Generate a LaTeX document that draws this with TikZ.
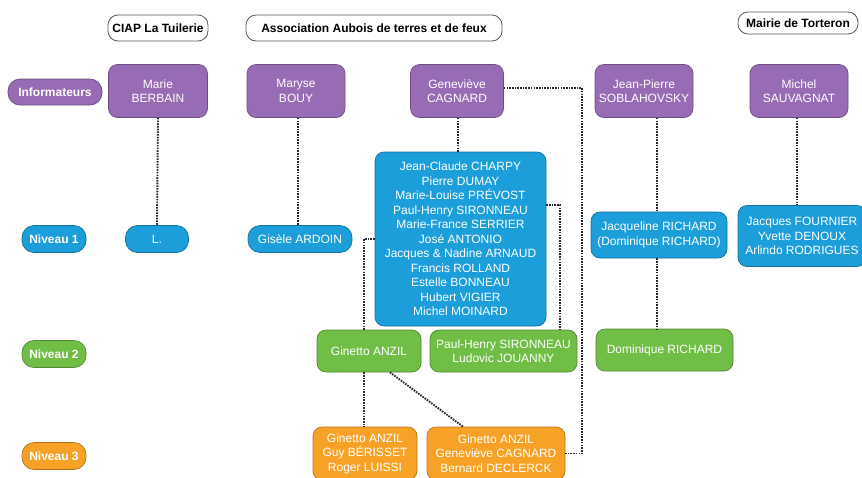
\documentclass[tikz,border=0pt]{standalone}
\usepackage{fontspec}
\setmainfont{Liberation Sans}
\definecolor{purp}{RGB}{152,108,180}
\definecolor{blu}{RGB}{28,158,218}
\definecolor{grn}{RGB}{112,190,70}
\definecolor{org}{RGB}{247,162,38}
\definecolor{lnk}{RGB}{40,40,50}
\begin{document}
\begin{tikzpicture}[x=1pt,y=-1pt,
  box/.style={draw=#1!72!black, fill=#1, text=white, align=center, rounded corners=9pt,
    line width=0.7pt, inner sep=1pt, font=\fontsize{12}{14.5}\selectfont},
  pill/.style={box=#1, rounded corners=12pt, font=\fontsize{12}{14}\selectfont\bfseries},
  header/.style={draw=black!65, fill=white, text=black, rounded corners=10pt, line width=0.8pt,
    inner sep=1pt, font=\fontsize{12}{14}\selectfont\bfseries},
  link/.style={draw=lnk, line width=1.9pt, dash pattern=on 1.6pt off 1.1pt}]
\useasboundingbox (0,0) rectangle (862,477);
% headers
\node[header, minimum width=100pt, minimum height=26pt] (ciap) at (158,28) {CIAP La Tuilerie};
\node[header, minimum width=256pt, minimum height=26pt] (asso) at (374,28) {Association Aubois de terres et de feux};
\node[header, minimum width=120pt, minimum height=22pt] (mairie) at (798,23) {Mairie de Torteron};
% row labels
\node[pill=purp, minimum width=94pt, minimum height=26pt] (inf) at (55,92) {Informateurs};
\node[pill=blu, minimum width=64pt, minimum height=27pt] (n1) at (54,239) {Niveau 1};
\node[pill=grn, minimum width=64pt, minimum height=27pt] (n2) at (54,354) {Niveau 2};
\node[pill=org, minimum width=64pt, minimum height=27pt] (n3) at (54,456) {Niveau 3};
% informateurs
\node[box=purp, minimum width=99pt, minimum height=53pt] (berbain) at (158,91) {Marie\\BERBAIN};
\node[box=purp, minimum width=98pt, minimum height=53pt] (bouy) at (296,91) {Maryse\\BOUY};
\node[box=purp, minimum width=93pt, minimum height=53pt] (cagnard) at (457,91) {Geneviève\\CAGNARD};
\node[box=purp, minimum width=98pt, minimum height=53pt] (sobla) at (644,91) {Jean-Pierre\\SOBLAHOVSKY};
\node[box=purp, minimum width=98pt, minimum height=53pt] (sauva) at (799,91) {Michel\\SAUVAGNAT};
% niveau 1
\node[pill=blu, minimum width=63pt, minimum height=27pt, font=\fontsize{12}{14}\selectfont] (L) at (157,239) {L.};
\node[pill=blu, minimum width=104pt, minimum height=27pt, font=\fontsize{12}{14}\selectfont] (ardoin) at (300,239) {Gisèle ARDOIN};
\node[box=blu, minimum width=171pt, minimum height=174pt] (big) at (460.5,239)
  {Jean-Claude CHARPY\\Pierre DUMAY\\Marie-Louise PRÉVOST\\Paul-Henry SIRONNEAU\\Marie-France SERRIER\\José ANTONIO\\Jacques \& Nadine ARNAUD\\Francis ROLLAND\\Estelle BONNEAU\\Hubert VIGIER\\Michel MOINARD};
\node[box=blu, minimum width=136pt, minimum height=46pt] (jacq) at (659,235) {Jacqueline RICHARD\\(Dominique RICHARD)};
\node[box=blu, minimum width=128pt, minimum height=61pt] (fourn) at (802,236) {Jacques FOURNIER\\Yvette DENOUX\\Arlindo RODRIGUES};
% niveau 2
\node[box=grn, minimum width=104pt, minimum height=42pt] (anzil) at (369,351) {Ginetto ANZIL};
\node[box=grn, minimum width=147pt, minimum height=42pt] (ph) at (503.5,351) {Paul-Henry SIRONNEAU\\Ludovic JOUANNY};
\node[box=grn, minimum width=137pt, minimum height=42pt] (domi) at (664.5,350) {Dominique RICHARD};
% niveau 3
\node[box=org, minimum width=104pt, minimum height=53pt] (g3a) at (365,453.5) {Ginetto ANZIL\\Guy BÉRISSET\\Roger LUISSI};
\node[box=org, minimum width=138pt, minimum height=53pt] (g3b) at (496,453.5) {Ginetto ANZIL\\Geneviève CAGNARD\\Bernard DECLERCK};
% connectors
\draw[link] (berbain.south) -- (L.north);
\draw[link] ([xshift=2pt]bouy.south) -- ([xshift=-2pt]ardoin.north);
\draw[link] ([xshift=1pt]cagnard.south) -- ([xshift=-2.5pt]big.north);
\draw[link] ([yshift=3pt]cagnard.east) -- (582,88) |- (g3b.east);
\draw[link] ([xshift=13pt]sobla.south) -- ([xshift=-2pt]jacq.north);
\draw[link] ([xshift=-2pt]sauva.south) -- ([xshift=-5pt]fourn.north);
\draw[link] ([xshift=-2pt]jacq.south) -- ([xshift=-7.5pt]domi.north);
\draw[link] (big.west) -| ([xshift=-5pt]anzil.north);
\draw[link] ([yshift=34pt]big.east) -| ([xshift=56.5pt]ph.north);
\draw[link] ([xshift=-5pt]anzil.south) -- ([xshift=-1pt]g3a.north);
\draw[link] ([xshift=21pt]anzil.south) -- ([xshift=-33pt]g3b.north);
\end{tikzpicture}
\end{document}
